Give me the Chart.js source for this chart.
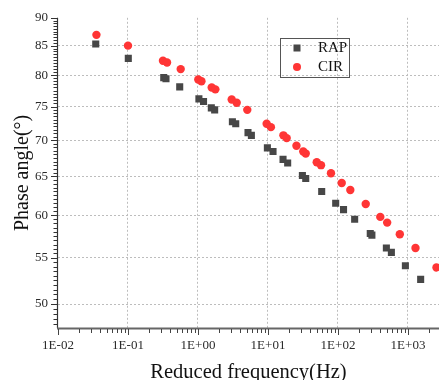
<!DOCTYPE html>
<html><head><meta charset="utf-8">
<script src="https://cdn.jsdelivr.net/npm/chart.js@4/dist/chart.umd.min.js"></script>
<style>html,body{margin:0;padding:0;background:#fff;}#wrap{width:439px;height:380px;}</style>
</head><body><div id="wrap"><canvas id="c" width="439" height="380"></canvas></div>
<script>
const seriesNames = ['RAP', 'CIR'];
const rapFreq = [0.0346,0.101,0.324,0.349,0.548,1.03,1.20,1.55,1.73,3.10,3.46,5.18,5.79,9.8,11.8,16.4,19.1,31.0,34.6,58.5,92.7,120,173,289,305,491,579,918,1517];
const rapPhase = [85.3,82.8,79.6,79.4,78.1,76.2,75.8,74.8,74.5,72.7,72.4,71.1,70.7,68.9,68.4,67.3,66.8,65.1,64.7,63.0,61.5,60.7,59.5,57.8,57.6,56.1,55.6,54.1,52.6];
const cirFreq = [0.0354,0.1,0.316,0.361,0.566,1.01,1.12,1.57,1.77,3.03,3.57,5.06,9.57,11.0,16.6,18.5,25.5,31.9,34.6,49.7,57.2,79.4,113,150,249,402,504,764,1280,2553];
const cirPhase = [86.9,85.0,82.4,82.1,81.0,79.3,79.0,78.0,77.7,76.1,75.6,74.5,72.4,71.9,70.7,70.3,69.2,68.4,68.1,66.9,66.5,65.4,64.1,63.2,61.4,59.8,59.1,57.7,56.1,53.9];
const xTickValues = [0.01,0.1,1,10,100,1000];
const xTickLabels = ['1E-02','1E-01','1E+00','1E+01','1E+02','1E+03'];
const yTickValues = [50,55,60,65,70,75,80,85,90];
const xRange = [0.01, 2773];
const yRange = [47.6, 90];
const xTitle = 'Reduced frequency(Hz)';
const yTitle = 'Phase angle(°)';

const SERIF = '"Liberation Serif", "DejaVu Serif", serif';
const RAP_COLOR = '#474747';
const CIR_COLOR = '#ff3535';

const axesPlugin = {
  id: 'customAxes',
  afterDraw(chart) {
    const {ctx, chartArea: a, scales: {x, y}} = chart;
    ctx.save();
    // y axis
    ctx.strokeStyle = '#333';
    ctx.lineWidth = 1.2;
    ctx.beginPath();
    ctx.moveTo(a.left - 0.5, a.top);
    ctx.lineTo(a.left - 0.5, a.bottom);
    ctx.stroke();
    ctx.lineWidth = 1;
    for (let v = Math.ceil(yRange[0] * 2) / 2; v <= yRange[1] + 1e-9; v += 0.5) {
      const py = Math.round(y.getPixelForValue(v)) + 0.5;
      const major = yTickValues.includes(v);
      ctx.beginPath();
      ctx.moveTo(a.left - 0.5, py);
      ctx.lineTo(a.left - (major ? 7 : 4.5), py);
      ctx.stroke();
    }
    // x axis
    ctx.strokeStyle = '#666';
    ctx.lineWidth = 2;
    ctx.beginPath();
    ctx.moveTo(a.left - 1, a.bottom + 0.5);
    ctx.lineTo(a.right, a.bottom + 0.5);
    ctx.stroke();
    ctx.lineWidth = 1;
    ctx.strokeStyle = '#444';
    for (let d = -2; d <= 3; d++) {
      for (let m = 1; m <= 9; m++) {
        const v = m * Math.pow(10, d);
        if (v < xRange[0] || v > xRange[1]) continue;
        const px = Math.round(x.getPixelForValue(v)) + 0.5;
        ctx.beginPath();
        ctx.moveTo(px, a.bottom + 1);
        ctx.lineTo(px, a.bottom + (m === 1 ? 7 : 5));
        ctx.stroke();
      }
    }
    // legend
    ctx.strokeStyle = '#555';
    ctx.lineWidth = 1;
    ctx.strokeRect(280.5, 38.5, 69, 39);
    ctx.fillStyle = RAP_COLOR;
    ctx.fillRect(293.5, 44.5, 7, 7);
    ctx.fillStyle = CIR_COLOR;
    ctx.beginPath();
    ctx.arc(297, 67, 4, 0, Math.PI * 2);
    ctx.fill();
    ctx.fillStyle = '#111';
    ctx.font = '15px ' + SERIF;
    ctx.textBaseline = 'middle';
    ctx.textAlign = 'left';
    ctx.fillText(seriesNames[0], 318, 48.5);
    ctx.fillText(seriesNames[1], 318, 67);
    ctx.restore();
  }
};

new Chart(document.getElementById('c'), {
  type: 'scatter',
  data: {
    datasets: [
      { label: seriesNames[0], data: rapFreq.map((f, i) => ({x: f, y: rapPhase[i]})),
        pointStyle: 'rect', pointRadius: 5, pointHoverRadius: 5,
        backgroundColor: RAP_COLOR, borderColor: RAP_COLOR, borderWidth: 0 },
      { label: seriesNames[1], data: cirFreq.map((f, i) => ({x: f, y: cirPhase[i]})),
        pointStyle: 'circle', pointRadius: 4.2, pointHoverRadius: 4.2,
        backgroundColor: CIR_COLOR, borderColor: CIR_COLOR, borderWidth: 0 }
    ]
  },
  options: {
    responsive: false,
    animation: false,
    devicePixelRatio: 1,
    layout: { autoPadding: false, padding: { top: 16, right: 0, left: 0, bottom: 0 } },
    plugins: { legend: { display: false }, tooltip: { enabled: false } },
    scales: {
      x: {
        type: 'logarithmic', min: xRange[0], max: xRange[1],
        afterBuildTicks: s => { s.ticks = xTickValues.map(v => ({value: v})); },
        afterFit: s => { s.height = 52; },
        ticks: { font: { family: SERIF, size: 13 }, color: '#2a2a2a', padding: 10, maxRotation: 0, autoSkip: false,
                 callback: (v, i) => xTickLabels[i] },
        grid: { drawTicks: false, lineWidth: 1,
                color: c => (c.tick && c.tick.value === xRange[0]) ? 'rgba(0,0,0,0)' : '#bdbdbd' },
        border: { display: false, dash: [2, 2] },
        title: { display: true, text: xTitle, font: { family: SERIF, size: 20.5 }, color: '#111', padding: { top: 0, bottom: -5 } }
      },
      y: {
        type: 'logarithmic', min: yRange[0], max: yRange[1],
        afterBuildTicks: s => { s.ticks = yTickValues.map(v => ({value: v})); },
        afterFit: s => { s.width = 58; },
        ticks: { font: { family: SERIF, size: 13 }, color: '#2a2a2a', padding: 10, autoSkip: false,
                 callback: v => String(v) },
        grid: { drawTicks: false, lineWidth: 1,
                color: c => (c.tick && c.tick.value === yRange[1]) ? 'rgba(0,0,0,0)' : '#bdbdbd' },
        border: { display: false, dash: [2, 2] },
        title: { display: true, text: yTitle, font: { family: SERIF, size: 20 }, color: '#111', padding: { top: 11, bottom: 0 } }
      }
    }
  },
  plugins: [axesPlugin]
});
</script></body></html>
